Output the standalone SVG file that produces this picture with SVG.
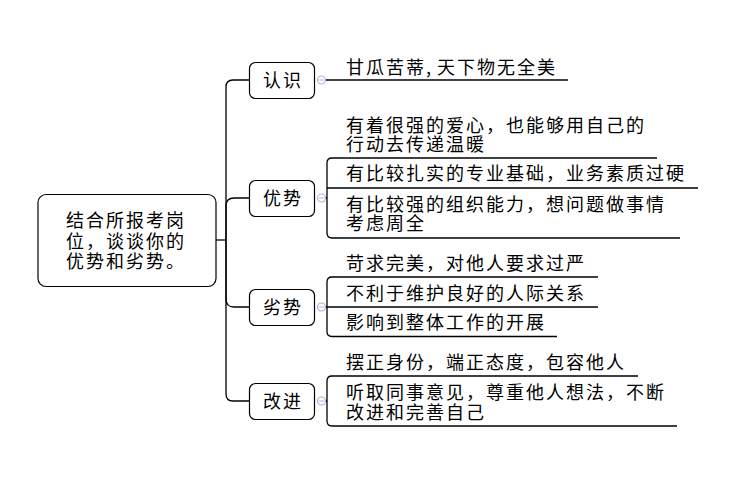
<svg xmlns="http://www.w3.org/2000/svg" width="752" height="480" viewBox="0 0 752 480">
<style>
.box{fill:#fff;stroke:#000;stroke-width:1.2}
.ln{fill:none;stroke:#000;stroke-width:1.3}
.t{font-family:"Noto Sans CJK SC","Noto Sans CJK JP",sans-serif;font-size:18px;letter-spacing:2px;fill:#000}
.c{fill:#fff;stroke:#a9b3dd;stroke-width:1.2}
</style>
<rect width="752" height="480" fill="#fff"/>
<g id="connectors">
<path class="ln" d="M216,240 H226"/>
<path class="ln" d="M226,240 V87 Q226,80 233,80 H249"/>
<path class="ln" d="M226,240 V206 Q226,198 234,198 H249"/>
<path class="ln" d="M226,240 V299 Q226,307 234,307 H249"/>
<path class="ln" d="M226,240 V394 Q226,401 233,401 H249"/>
<path class="ln" d="M325.5,80 H568"/>
<path class="ln" d="M325.5,198 H327 M332,158 Q327,158 327,163 V233 Q327,238 332,238 M332,158 H657 M327,188 H698 M332,238 H680"/>
<path class="ln" d="M325.5,307 H327 M332,277 Q327,277 327,282 V331.5 Q327,336.5 332,336.5 M332,277 H598 M327,307 H598 M332,336.5 H557"/>
<path class="ln" d="M325.5,401 H327 M332,376 Q327,376 327,381 V421 Q327,426 332,426 M332,376 H638 M332,426 H677"/>
</g>
<g id="center">
<rect class="box" x="38" y="194.5" width="178" height="92" rx="8"/>
<text class="t" x="66"><tspan x="66" y="227">结合所报考岗</tspan><tspan x="66" y="248">位，谈谈你的</tspan><tspan x="66" y="268">优势和劣势。</tspan></text>
</g>
<g id="renshi">
<rect class="box" x="249.5" y="62.5" width="65" height="36" rx="6"/>
<text class="t" x="283" y="87" text-anchor="middle">认识</text>
<circle class="c" cx="321.5" cy="80" r="4"/><path d="M319,80 H324" stroke="#a9b3dd" stroke-width="1"/>
<text class="t" x="346" y="74">甘瓜苦蒂,<tspan dx="4">天下物无全美</tspan></text>
</g>
<g id="youshi">
<rect class="box" x="249.5" y="180.5" width="65" height="36" rx="6"/>
<text class="t" x="283" y="205" text-anchor="middle">优势</text>
<circle class="c" cx="321.5" cy="198" r="4"/><path d="M319,198 H324" stroke="#a9b3dd" stroke-width="1"/>
<text class="t"><tspan x="346" y="132">有着很强的爱心，也能够用自己的</tspan><tspan x="346" y="151">行动去传递温暖</tspan></text>
<text class="t" x="346" y="180">有比较扎实的专业基础，业务素质过硬</text>
<text class="t"><tspan x="346" y="210.5">有比较强的组织能力，想问题做事情</tspan><tspan x="346" y="229.5">考虑周全</tspan></text>
</g>
<g id="lieshi">
<rect class="box" x="249.5" y="289.5" width="65" height="36" rx="6"/>
<text class="t" x="283" y="314" text-anchor="middle">劣势</text>
<circle class="c" cx="321.5" cy="307" r="4"/><path d="M319,307 H324" stroke="#a9b3dd" stroke-width="1"/>
<text class="t" x="346" y="270">苛求完美，对他人要求过严</text>
<text class="t" x="346" y="299.5">不利于维护良好的人际关系</text>
<text class="t" x="346" y="329">影响到整体工作的开展</text>
</g>
<g id="gaijin">
<rect class="box" x="249.5" y="383.5" width="65" height="36" rx="6"/>
<text class="t" x="283" y="408" text-anchor="middle">改进</text>
<circle class="c" cx="321.5" cy="401" r="4"/><path d="M319,401 H324" stroke="#a9b3dd" stroke-width="1"/>
<text class="t" x="346" y="369">摆正身份，端正态度，包容他人</text>
<text class="t"><tspan x="346" y="399">听取同事意见，尊重他人想法，不断</tspan><tspan x="346" y="418.5">改进和完善自己</tspan></text>
</g>
</svg>
